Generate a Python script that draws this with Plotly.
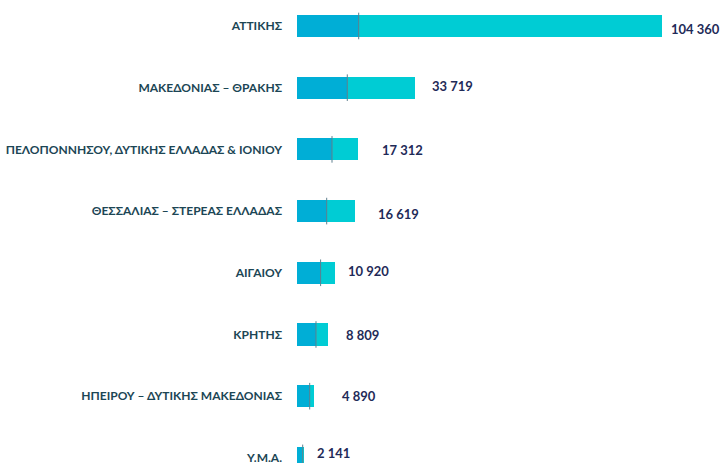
import plotly.graph_objects as go

regions = [
    "ΑΤΤΙΚΗΣ",
    "ΜΑΚΕΔΟΝΙΑΣ – ΘΡΑΚΗΣ",
    "ΠΕΛΟΠΟΝΝΗΣΟΥ, ΔΥΤΙΚΗΣ ΕΛΛΑΔΑΣ & ΙΟΝΙΟΥ",
    "ΘΕΣΣΑΛΙΑΣ – ΣΤΕΡΕΑΣ ΕΛΛΑΔΑΣ",
    "ΑΙΓΑΙΟΥ",
    "ΚΡΗΤΗΣ",
    "ΗΠΕΙΡΟΥ – ΔΥΤΙΚΗΣ ΜΑΚΕΔΟΝΙΑΣ",
    "Υ.Μ.Α.",
]
totals = [104360, 33719, 17312, 16619, 10920, 8809, 4890, 2141]
first_part = [17640, 14380, 10010, 8490, 6750, 5430, 3630, 1630]
second_part = [t - f for t, f in zip(totals, first_part)]

# label nudges (px) as placed by hand in the original: right gap, vertical rise
label_gap = [9, 17, 24, 23, 13, 18, 28, 13]
label_rise = [-3, 2, -1, -3, 2, -1, 0, 5]

DARK = "#00AED6"
LIGHT = "#00CCD4"
LABEL = "#1C4655"
VALUE = "#1F2B58"

fig = go.Figure()
fig.add_trace(go.Bar(y=regions, x=first_part, orientation="h",
                     marker=dict(color=DARK, line=dict(width=0)), showlegend=False))
fig.add_trace(go.Bar(y=regions, x=second_part, orientation="h",
                     marker=dict(color=LIGHT, line=dict(width=0)), showlegend=False))
# thin divider between the two parts
fig.add_trace(go.Scatter(y=regions, x=first_part, mode="markers", showlegend=False,
                         hoverinfo="skip",
                         marker=dict(symbol="line-ns", size=19,
                                     line=dict(color="#5F7F8E", width=1))))

for r, t, g, h in zip(regions, totals, label_gap, label_rise):
    fig.add_annotation(x=t, y=r, text=f"{t:,}".replace(",", " "), showarrow=False,
                       xanchor="left", xshift=g - 2, yshift=h,
                       font=dict(family="Lato", size=13, color=VALUE, weight="bold"))

fig.update_layout(
    barmode="stack",
    bargap=0.64,
    width=721,
    height=463,
    margin=dict(l=297, r=0, t=0, b=0),
    plot_bgcolor="white",
    paper_bgcolor="white",
    xaxis=dict(range=[0, 121240], visible=False),
    yaxis=dict(range=[7.083, -0.421], showgrid=False, ticks="", ticklabelstandoff=14,
               automargin=False,
               tickfont=dict(family="Lato", size=12, color=LABEL, weight="bold")),
)

fig.write_html("out.html", config={"displayModeBar": False},
               post_script="document.body.style.margin='0';document.body.style.overflow='hidden';")
